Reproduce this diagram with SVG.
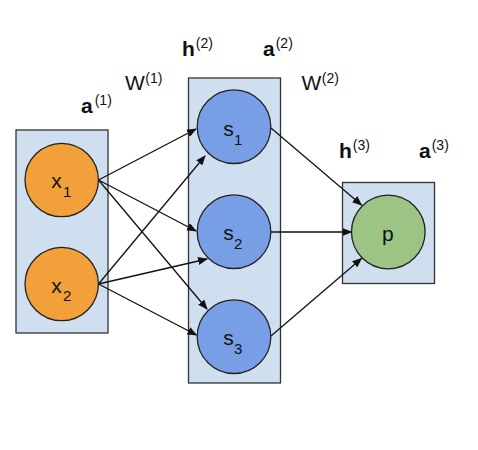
<svg xmlns="http://www.w3.org/2000/svg" width="478" height="450" viewBox="0 0 478 450">
<defs>
<marker id="ah" markerWidth="10" markerHeight="8" refX="9" refY="4" orient="auto" markerUnits="userSpaceOnUse">
<path d="M0,0 L10,4 L0,8 Z" fill="#111"/>
</marker>
<style>
.box{fill:#cfdff0;stroke:#333;stroke-width:1.3}
.in{fill:#f1a03a;stroke:#222;stroke-width:1.3}
.hid{fill:#789fe6;stroke:#222;stroke-width:1.3}
.out{fill:#9bc485;stroke:#222;stroke-width:1.3}
.t{font-family:"Liberation Sans",Arial,sans-serif;fill:#111}
.m{font-size:21px}
.s{font-size:15px}
.lb{font-family:"Liberation Sans",Arial,sans-serif;fill:#111;font-size:21px}
.b{font-weight:bold}
.sp{font-size:14px}
.c{stroke:#111;stroke-width:1.3;fill:none;marker-end:url(#ah)}
</style>
</defs>
<rect width="478" height="450" fill="#fff"/>
<g id="layer1">
<rect class="box" x="16" y="130" width="92" height="203"/>
</g>
<g id="layer2">
<rect class="box" x="188.5" y="78" width="92" height="305"/>
</g>
<g id="layer3">
<rect class="box" x="342.5" y="182.5" width="92" height="101"/>
</g>
<g id="connectors">
<line class="c" x1="98.5" y1="180" x2="196" y2="129"/>
<line class="c" x1="98.5" y1="180" x2="196" y2="231"/>
<line class="c" x1="98.5" y1="180" x2="207" y2="309"/>
<line class="c" x1="98.5" y1="284" x2="205" y2="156"/>
<line class="c" x1="98.5" y1="284" x2="207" y2="259"/>
<line class="c" x1="98.5" y1="284" x2="196.5" y2="335"/>
<line class="c" x1="271" y1="128" x2="361.5" y2="205"/>
<line class="c" x1="271" y1="232" x2="351.5" y2="232"/>
<line class="c" x1="271" y1="336" x2="361.5" y2="258.5"/>
</g>
<g id="x1">
<circle class="in" cx="61.7" cy="180" r="36.7"/>
<text class="t m" x="51.3" y="188">x</text><text class="t s" x="63" y="197">1</text>
</g>
<g id="x2">
<circle class="in" cx="61.7" cy="284" r="36.7"/>
<text class="t m" x="51.3" y="292.5">x</text><text class="t s" x="63" y="301">2</text>
</g>
<g id="s1">
<circle class="hid" cx="234" cy="126.7" r="36.8"/>
<text class="t m" x="223.3" y="136">s</text><text class="t s" x="234" y="145">1</text>
</g>
<g id="s2">
<circle class="hid" cx="234" cy="231.7" r="36.8"/>
<text class="t m" x="223.3" y="240">s</text><text class="t s" x="234" y="249">2</text>
</g>
<g id="s3">
<circle class="hid" cx="234" cy="336.7" r="36.8"/>
<text class="t m" x="223.3" y="345">s</text><text class="t s" x="234" y="354">3</text>
</g>
<g id="p">
<circle class="out" cx="388.3" cy="232" r="36.8"/>
<text class="t m" x="382" y="241">p</text>
</g>
<g id="labels">
<text class="lb" x="81" y="113"><tspan class="b">a</tspan><tspan class="sp" dx="2" dy="-8">(1)</tspan></text>
<text class="lb" x="125" y="90">W<tspan class="sp" dx="0.5" dy="-7">(1)</tspan></text>
<text class="lb" x="182" y="56"><tspan class="b">h</tspan><tspan class="sp" dx="1" dy="-8">(2)</tspan></text>
<text class="lb" x="263" y="56"><tspan class="b">a</tspan><tspan class="sp" dx="1" dy="-8">(2)</tspan></text>
<text class="lb" x="301.5" y="90">W<tspan class="sp" dx="0.5" dy="-7">(2)</tspan></text>
<text class="lb" x="339" y="158.3"><tspan class="b">h</tspan><tspan class="sp" dx="1" dy="-8">(3)</tspan></text>
<text class="lb" x="419" y="158.3"><tspan class="b">a</tspan><tspan class="sp" dx="1" dy="-8">(3)</tspan></text>
</g>
</svg>
